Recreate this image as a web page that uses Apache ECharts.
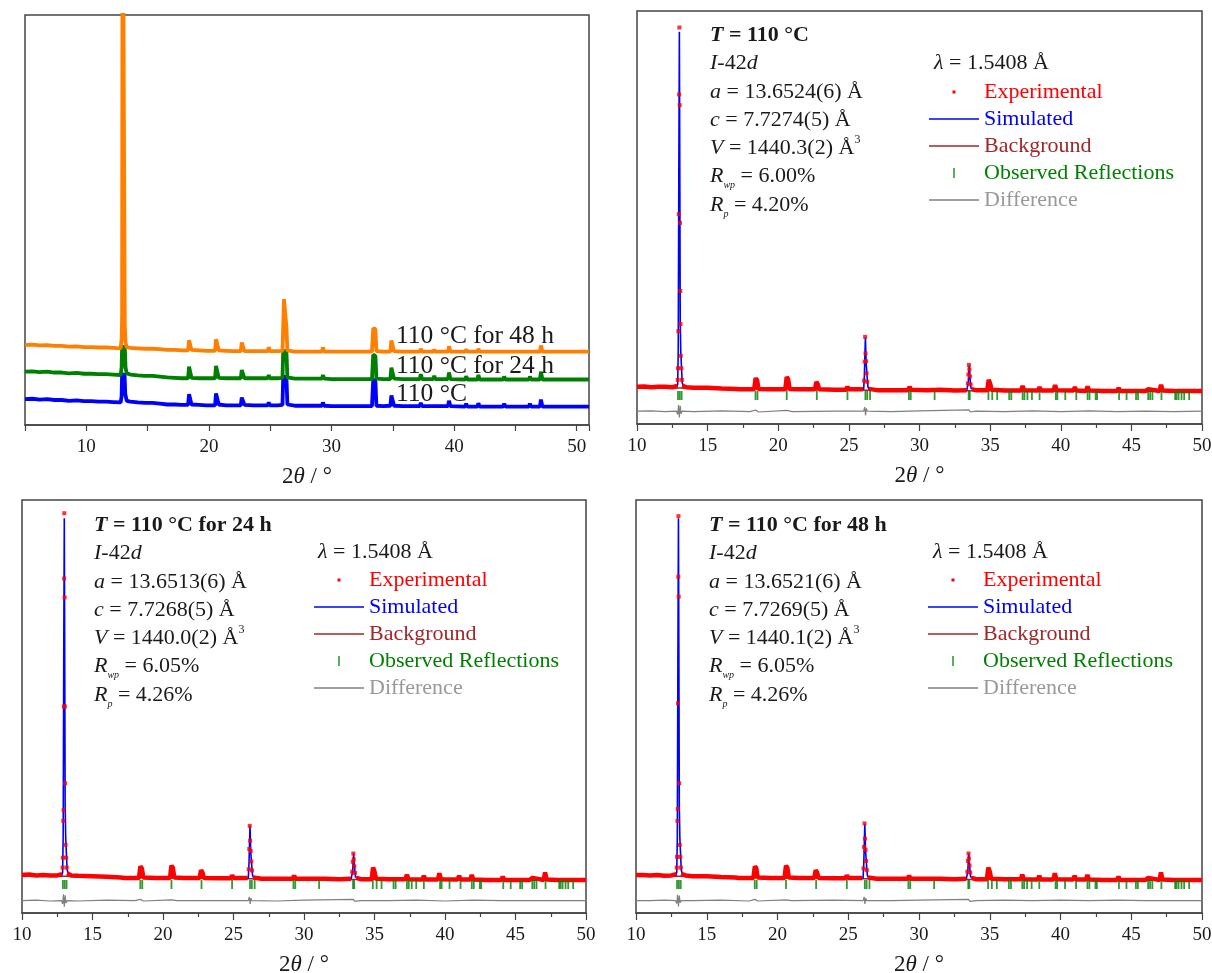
<!DOCTYPE html>
<html><head><meta charset="utf-8">
<script src="https://cdn.jsdelivr.net/npm/echarts@6/dist/echarts.min.js"></script>
<style>html,body{margin:0;padding:0;background:#fff}#c{width:1212px;height:973px}</style>
</head><body><div id="c"></div>
<script>
const FONT = '"Liberation Serif", "Times New Roman", serif';
const TXT = '#1a1a1a';

// ---------- Panel 1: stacked XRD patterns (2θ, arbitrary intensity) ----------
const xrd110 = [[5,6.3],[5.6,6.4],[6.2,6.2],[6.8,6.3],[7.4,6.1],[8,6.1],[8.6,5.9],[9.2,6.0],[9.8,5.8],[10.4,5.8],[11,5.7],[11.6,5.7],[12.2,5.6],[12.8,5.5],[12.88,7.0],[12.92,12.4],[13.12,12.2],[13.18,7.5],[13.3,5.9],[13.6,5.7],[14.2,5.5],[14.8,5.4],[15.4,5.4],[16,5.2],[16.6,5.0],[17.2,5.0],[17.8,4.9],[18.3,4.9],[18.38,7.5],[18.48,7.4],[18.58,5.0],[19.2,4.9],[19.8,4.8],[20.5,4.8],[20.58,7.7],[20.7,7.5],[20.8,5.0],[21.4,4.8],[22,4.8],[22.6,4.8],[22.68,6.7],[22.8,6.6],[22.9,4.9],[23.6,4.8],[24.2,4.8],[24.8,4.8],[24.88,5.5],[24.96,4.8],[25.6,4.8],[26.0,4.9],[26.06,11.8],[26.32,11.7],[26.4,5.0],[27,4.7],[27.6,4.7],[28.2,4.7],[28.8,4.7],[29.22,4.7],[29.3,5.5],[29.4,4.7],[30,4.6],[30.6,4.6],[31.2,4.6],[31.8,4.6],[32.4,4.6],[33.3,4.6],[33.4,11.0],[33.58,10.8],[33.66,4.7],[34.2,4.6],[34.8,4.7],[34.88,7.2],[35.0,6.9],[35.1,4.7],[35.8,4.6],[36.4,4.6],[37.2,4.6],[37.28,5.4],[37.38,4.6],[38.3,4.6],[38.38,5.0],[38.46,4.6],[39.5,4.6],[39.58,5.9],[39.7,4.6],[40.9,4.5],[40.98,5.2],[41.08,4.5],[41.9,4.5],[41.98,5.3],[42.08,4.5],[43,4.5],[44.0,4.5],[44.08,5.2],[44.18,4.5],[45,4.5],[46.1,4.5],[46.18,5.2],[46.28,4.5],[47.0,4.5],[47.08,6.2],[47.2,4.5],[48.2,4.5],[48.28,4.9],[48.36,4.5],[49.5,4.5],[51,4.5]];
const xrd24h = [[5,13.0],[5.6,13.1],[6.2,12.9],[6.8,13.0],[7.4,12.8],[8,12.8],[8.6,12.6],[9.2,12.7],[9.8,12.5],[10.4,12.5],[11,12.4],[11.6,12.4],[12.2,12.3],[12.8,12.2],[12.88,14.0],[12.92,19.1],[13.14,19.0],[13.2,14.0],[13.3,12.6],[13.6,12.3],[14.2,12.1],[14.8,12.0],[15.4,12.0],[16,11.8],[16.6,11.6],[17.2,11.5],[17.8,11.4],[18.3,11.4],[18.38,14.2],[18.48,14.0],[18.58,11.5],[19.2,11.4],[19.8,11.4],[20.5,11.4],[20.58,14.4],[20.7,14.2],[20.8,11.5],[21.4,11.4],[22,11.4],[22.6,11.4],[22.68,13.4],[22.8,13.2],[22.9,11.4],[23.6,11.4],[24.2,11.4],[24.8,11.4],[24.88,12.2],[24.96,11.4],[25.6,11.4],[26.0,11.5],[26.06,18.1],[26.32,18.0],[26.4,11.6],[27,11.3],[27.6,11.3],[28.2,11.3],[28.8,11.3],[29.22,11.3],[29.3,12.2],[29.4,11.3],[30,11.2],[30.6,11.2],[31.2,11.2],[31.8,11.2],[32.4,11.2],[33.3,11.2],[33.4,17.1],[33.58,16.9],[33.66,11.3],[34.2,11.2],[34.8,11.2],[34.88,14.0],[35.0,13.6],[35.1,11.3],[35.8,11.2],[36.4,11.2],[37.2,11.2],[37.28,12.4],[37.38,11.2],[38.3,11.2],[38.38,12.0],[38.46,11.2],[39.5,11.2],[39.58,12.8],[39.7,11.2],[40.9,11.1],[40.98,11.9],[41.08,11.1],[41.9,11.1],[41.98,12.2],[42.08,11.1],[43,11.1],[44.0,11.1],[44.08,11.8],[44.18,11.1],[45,11.1],[46.1,11.1],[46.18,11.8],[46.28,11.1],[47.0,11.1],[47.08,13.0],[47.2,11.1],[48.2,11.1],[48.28,11.5],[48.36,11.1],[49.5,11.1],[51,11.1]];
const xrd48h = [[5,19.5],[5.6,19.6],[6.2,19.4],[6.8,19.5],[7.4,19.3],[8,19.3],[8.6,19.1],[9.2,19.2],[9.8,19.0],[10.4,19.0],[11,18.9],[11.6,18.9],[12.2,18.8],[12.8,18.7],[12.88,21.0],[12.92,26.0],[12.96,150],[13.08,150],[13.14,24.0],[13.2,20.0],[13.3,19.0],[13.6,18.8],[14.2,18.7],[14.8,18.6],[15.4,18.6],[16,18.5],[16.6,18.3],[17.2,18.3],[17.8,18.2],[18.3,18.2],[18.38,20.7],[18.48,20.5],[18.58,18.3],[19.2,18.2],[19.8,18.1],[20.5,18.1],[20.58,20.9],[20.7,20.7],[20.8,18.2],[21.4,18.1],[22,18.0],[22.6,18.0],[22.68,20.1],[22.8,19.9],[22.9,18.0],[23.6,18.0],[24.2,18.0],[24.8,18.0],[24.88,18.95],[24.96,18.0],[25.6,18.0],[26.0,18.1],[26.06,24.0],[26.12,30.7],[26.26,30.5],[26.32,24.0],[26.4,18.2],[27,17.9],[27.6,17.9],[28.2,17.9],[28.8,17.9],[29.22,17.9],[29.3,18.95],[29.4,17.9],[30,17.9],[30.6,17.9],[31.2,17.9],[31.8,17.9],[32.4,17.9],[33.3,17.9],[33.4,23.6],[33.58,23.4],[33.66,18.0],[34.2,17.9],[34.8,17.9],[34.88,20.6],[35.0,20.3],[35.1,18.0],[35.8,17.9],[36.4,17.9],[37.2,17.9],[37.28,18.6],[37.38,17.9],[38.3,17.9],[38.38,18.4],[38.46,17.9],[39.5,17.9],[39.58,19.2],[39.7,17.9],[40.9,17.9],[40.98,18.4],[41.08,17.9],[41.9,17.9],[41.98,18.6],[42.08,17.9],[43,17.9],[44.0,17.9],[44.08,18.3],[44.18,17.9],[45,17.9],[46.1,17.9],[46.18,18.3],[46.28,17.9],[47.0,17.9],[47.08,19.4],[47.2,17.9],[48.2,17.9],[48.28,18.2],[48.36,17.9],[49.5,17.9],[51,17.9]];
const stackLabels = ['110 °C for 48 h', '110 °C for 24 h', '110 °C'];

// ---------- Reflection positions (2θ) ----------
const reflPos = [12.9,13.03,13.16,18.39,18.53,20.6,22.73,24.9,26.17,26.3,26.5,29.25,29.38,31.07,33.48,33.56,34.88,35.15,35.5,36.35,36.5,37.3,37.43,37.64,37.96,38.5,39.65,39.76,40.32,41.1,41.9,42.04,42.47,42.57,44.13,44.66,45.33,45.47,46.19,46.33,46.49,47.13,48.1,48.2,48.34,48.55,48.74,49.09];
const REFL_LEVEL = 6.9;

// ---------- Panel 2: 110 °C ----------
const sim110 = [[10,9.0],[11,8.95],[12,8.9],[12.8,8.9],[12.88,9.6],[12.92,18],[12.96,60],[13.0,95],[13.03,62],[13.06,25],[13.1,17.5],[13.16,17.5],[13.2,10],[13.3,9.0],[14,8.8],[16,8.6],[18.3,8.5],[18.4,11.0],[18.5,10.5],[18.6,8.5],[20.5,8.4],[20.6,11.3],[20.7,10.6],[20.8,8.4],[22.6,8.4],[22.7,10.1],[22.8,9.5],[22.9,8.3],[24.8,8.3],[24.9,8.9],[25.0,8.3],[26.05,8.4],[26.1,12],[26.17,21],[26.22,15],[26.28,12],[26.35,9],[26.45,8.3],[29.2,8.2],[29.3,8.9],[29.4,8.2],[33.35,8.2],[33.45,10],[33.52,14.2],[33.58,11],[33.65,8.6],[33.75,8.2],[34.8,8.2],[34.9,10.6],[35.0,9.5],[35.1,8.2],[37.2,8.1],[37.3,9.0],[37.4,8.1],[38.4,8.1],[38.5,8.7],[38.6,8.1],[39.5,8.1],[39.6,9.3],[39.7,8.1],[40.9,8.1],[41.0,8.7],[41.1,8.0],[41.8,8.0],[41.9,8.9],[42.0,8.0],[44.0,8.0],[44.1,8.6],[44.2,8.0],[47.0,8.0],[47.1,9.3],[47.2,8.0],[50,8.0]];
const exp110Line = [[10,9.0],[10.5,9.1],[11,8.9],[11.5,9.0],[12,9.0],[12.5,8.9],[12.85,9.2],[13.0,'-'],[13.2,9.3],[13.5,8.9],[14,8.8],[15,8.8],[16,8.6],[17,8.5],[17.3,8.4],[18.3,8.4],[18.4,11.1],[18.5,10.6],[18.6,8.5],[19.5,8.4],[20.5,8.4],[20.6,11.4],[20.7,10.8],[20.8,8.5],[21.5,8.4],[22.6,8.4],[22.7,10.2],[22.8,9.6],[22.9,8.4],[24,8.3],[24.8,8.3],[24.9,9.0],[25.0,8.4],[26.0,8.4],[26.2,'-'],[26.4,8.5],[27,8.2],[28,8.2],[29.2,8.2],[29.3,9.0],[29.4,8.3],[30.5,8.2],[31.5,8.3],[32.5,8.1],[33.35,8.2],[33.5,'-'],[33.7,8.4],[34.0,8.2],[34.8,8.2],[34.9,10.7],[35.0,9.8],[35.1,8.3],[36,8.1],[37.2,8.1],[37.3,9.2],[37.4,8.2],[38.4,8.1],[38.5,8.9],[38.6,8.1],[39.5,8.1],[39.6,9.4],[39.7,8.2],[40.9,8.1],[41.0,8.9],[41.1,8.1],[41.8,8.0],[41.9,9.1],[42.0,8.1],[43,8.0],[44.0,8.0],[44.1,8.7],[44.2,8.0],[45,8.0],[46,8.0],[46.2,8.4],[47.0,8.0],[47.1,9.5],[47.2,8.1],[48,8.0],[49,8.0],[50,8.0]];
const exp110Dots = [[12.88,10.7],[12.9,13.5],[12.93,22.5],[12.96,50.8],[12.98,79.8],[13.0,96.0],[13.02,77.2],[13.04,48.7],[13.06,32.2],[13.08,24.2],[13.1,16.5],[13.14,13.5],[13.18,10.7],[26.08,10.5],[26.12,15.1],[26.15,21.1],[26.18,17.1],[26.22,15.2],[26.25,12.3],[26.3,10.2],[33.42,9.8],[33.46,12.0],[33.5,14.3],[33.53,13.2],[33.57,11.5],[33.62,9.6]];
const bkg110 = [[10,8.9],[15,8.6],[20,8.3],[30,8.1],[40,8.0],[50,7.9]];
const diff110 = [[10,3.1],[11,3.2],[12,3.0],[12.8,3.1],[12.88,2.3],[12.94,4.6],[13.0,1.6],[13.06,4.4],[13.12,2.5],[13.2,3.1],[14,3.0],[16,3.2],[18,3.0],[18.4,3.4],[18.6,2.9],[20.6,3.3],[21,3.0],[24,3.1],[26.05,3.1],[26.12,4.1],[26.18,2.1],[26.24,3.8],[26.3,3.1],[28,3.0],[30,3.2],[33.5,3.4],[33.6,2.9],[34,3.1],[36,3.0],[38,3.2],[40,3.0],[42,3.2],[44,3.0],[46,3.1],[48,3.0],[50,3.1]];

// ---------- Panel 3: 110 °C for 24 h ----------
const sim24 = [[10,9.2],[11,9.1],[12,9.1],[12.8,9.0],[12.88,9.8],[12.92,18.5],[12.96,62],[13.0,95.6],[13.03,63],[13.06,26],[13.1,18],[13.16,18],[13.2,10.5],[13.3,9.2],[14,9.0],[16,8.8],[18.3,8.6],[18.4,11.2],[18.5,10.7],[18.6,8.6],[20.5,8.5],[20.6,11.4],[20.7,10.8],[20.8,8.5],[22.6,8.5],[22.7,10.3],[22.8,9.6],[22.9,8.4],[24.8,8.4],[24.9,9.0],[25.0,8.4],[26.05,8.5],[26.1,12],[26.17,21.1],[26.22,15],[26.28,12],[26.35,9.1],[26.45,8.4],[29.2,8.3],[29.3,9.0],[29.4,8.3],[33.35,8.3],[33.45,10.2],[33.52,14.4],[33.58,11.2],[33.65,8.7],[33.75,8.3],[34.8,8.2],[34.9,10.9],[35.0,9.7],[35.1,8.2],[37.2,8.2],[37.3,9.1],[37.4,8.2],[38.4,8.1],[38.5,8.8],[38.6,8.1],[39.5,8.1],[39.6,9.4],[39.7,8.1],[40.9,8.1],[41.0,8.8],[41.1,8.1],[41.8,8.0],[41.9,9.0],[42.0,8.0],[44.0,8.0],[44.1,8.7],[44.2,8.0],[47.0,8.0],[47.1,9.6],[47.2,8.0],[50,8.0]];
const exp24Line = [[10,9.2],[10.5,9.3],[11,9.1],[11.5,9.2],[12,9.1],[12.5,9.1],[12.85,9.4],[13.0,'-'],[13.2,9.6],[13.5,9.1],[14,9.0],[15,8.9],[16,8.8],[17,8.6],[17.3,8.5],[18.3,8.5],[18.4,11.3],[18.5,10.8],[18.6,8.6],[19.5,8.5],[20.5,8.5],[20.6,11.5],[20.7,10.9],[20.8,8.6],[21.5,8.5],[22.6,8.5],[22.7,10.4],[22.8,9.8],[22.9,8.5],[24,8.4],[24.8,8.4],[24.9,9.1],[25.0,8.5],[26.0,8.5],[26.2,'-'],[26.4,8.6],[27,8.3],[28,8.3],[29.2,8.3],[29.3,9.0],[29.4,8.3],[30.5,8.3],[31.5,8.3],[32.5,8.2],[33.35,8.3],[33.5,'-'],[33.7,8.5],[34.0,8.2],[34.8,8.2],[34.9,11.0],[35.0,10.0],[35.1,8.3],[36,8.2],[37.2,8.2],[37.3,9.3],[37.4,8.2],[38.4,8.1],[38.5,9.0],[38.6,8.1],[39.5,8.1],[39.6,9.6],[39.7,8.2],[40.9,8.1],[41.0,9.0],[41.1,8.1],[41.8,8.1],[41.9,9.2],[42.0,8.1],[43,8.0],[44.0,8.0],[44.1,8.8],[44.2,8.0],[45,8.0],[46,8.0],[46.2,8.5],[47.0,8.0],[47.1,9.8],[47.2,8.1],[48,8.0],[49,8.0],[50,8.0]];
const exp24Dots = [[12.88,11.0],[12.9,13.4],[12.93,22.3],[12.95,24.9],[12.97,50.0],[12.99,81.0],[13.0,96.8],[13.02,76.4],[13.04,50.0],[13.06,31.4],[13.09,16.5],[13.13,13.4],[13.17,11.0],[26.08,10.6],[26.12,15.5],[26.15,21.1],[26.18,17.5],[26.22,15.0],[26.26,12.5],[26.31,10.3],[33.42,10.0],[33.46,12.4],[33.5,14.4],[33.53,13.0],[33.57,11.3],[33.62,9.7]];
const bkg24 = [[10,9.1],[15,8.8],[20,8.5],[30,8.2],[40,8.1],[50,7.9]];
const diff24 = [[10,3.0],[11,3.1],[12,2.9],[12.8,3.0],[12.88,2.2],[12.94,4.5],[13.0,1.5],[13.06,4.3],[13.12,2.4],[13.2,3.0],[14,2.9],[16,3.1],[18,3.0],[18.4,3.3],[18.6,2.9],[20.6,3.2],[21,3.0],[24,3.0],[26.05,3.0],[26.12,3.9],[26.18,2.2],[26.24,3.6],[26.3,3.0],[28,2.9],[30,3.1],[33.5,3.3],[33.6,2.8],[34,3.0],[36,3.0],[38,3.1],[40,2.9],[42,3.1],[44,3.0],[46,3.0],[48,3.0],[50,3.0]];

// ---------- Panel 4: 110 °C for 48 h ----------
const sim48 = [[10,9.2],[11,9.1],[12,9.0],[12.8,9.0],[12.88,9.8],[12.92,18.2],[12.96,61],[13.0,95.6],[13.03,62],[13.06,26],[13.1,18],[13.16,17.8],[13.2,10.4],[13.3,9.1],[14,8.9],[16,8.7],[18.3,8.6],[18.4,11.2],[18.5,10.7],[18.6,8.6],[20.5,8.5],[20.6,11.4],[20.7,10.8],[20.8,8.5],[22.6,8.5],[22.7,10.3],[22.8,9.6],[22.9,8.4],[24.8,8.4],[24.9,9.0],[25.0,8.4],[26.05,8.5],[26.1,12.2],[26.17,21.6],[26.22,15.3],[26.28,12.2],[26.35,9.1],[26.45,8.4],[29.2,8.3],[29.3,9.0],[29.4,8.3],[33.35,8.3],[33.45,10.2],[33.52,14.4],[33.58,11.2],[33.65,8.7],[33.75,8.3],[34.8,8.2],[34.9,10.9],[35.0,9.7],[35.1,8.2],[37.2,8.2],[37.3,9.1],[37.4,8.2],[38.4,8.1],[38.5,8.8],[38.6,8.1],[39.5,8.1],[39.6,9.4],[39.7,8.1],[40.9,8.1],[41.0,8.8],[41.1,8.1],[41.8,8.0],[41.9,9.0],[42.0,8.0],[44.0,8.0],[44.1,8.7],[44.2,8.0],[47.0,8.0],[47.1,9.6],[47.2,8.0],[50,8.0]];
const exp48Line = [[10,9.2],[10.5,9.2],[11,9.1],[11.5,9.2],[12,9.0],[12.5,9.1],[12.85,9.4],[13.0,'-'],[13.2,9.5],[13.5,9.1],[14,8.9],[15,8.9],[16,8.7],[17,8.6],[17.3,8.5],[18.3,8.5],[18.4,11.3],[18.5,10.8],[18.6,8.6],[19.5,8.5],[20.5,8.5],[20.6,11.5],[20.7,10.9],[20.8,8.6],[21.5,8.5],[22.6,8.5],[22.7,10.4],[22.8,9.8],[22.9,8.5],[24,8.4],[24.8,8.4],[24.9,9.1],[25.0,8.5],[26.0,8.5],[26.2,'-'],[26.4,8.6],[27,8.3],[28,8.3],[29.2,8.3],[29.3,9.0],[29.4,8.3],[30.5,8.3],[31.5,8.3],[32.5,8.2],[33.35,8.3],[33.5,'-'],[33.7,8.5],[34.0,8.2],[34.8,8.2],[34.9,11.0],[35.0,10.0],[35.1,8.3],[36,8.2],[37.2,8.2],[37.3,9.3],[37.4,8.2],[38.4,8.1],[38.5,9.0],[38.6,8.1],[39.5,8.1],[39.6,9.6],[39.7,8.2],[40.9,8.1],[41.0,9.0],[41.1,8.1],[41.8,8.1],[41.9,9.2],[42.0,8.1],[43,8.0],[44.0,8.0],[44.1,8.8],[44.2,8.0],[45,8.0],[46,8.0],[46.2,8.5],[47.0,8.0],[47.1,9.8],[47.2,8.1],[48,8.0],[49,8.0],[50,8.0]];
const exp48Dots = [[12.88,11.0],[12.9,13.6],[12.93,22.3],[12.95,25.2],[12.97,50.8],[12.99,81.4],[13.0,96.1],[13.02,76.6],[13.05,31.4],[13.09,16.5],[13.13,13.6],[13.17,11.0],[26.08,10.8],[26.12,16.0],[26.15,21.7],[26.18,18.0],[26.22,15.3],[26.26,12.6],[26.31,10.4],[33.42,10.0],[33.46,12.6],[33.5,14.4],[33.53,13.2],[33.57,11.5],[33.62,9.8]];
const bkg48 = [[10,9.1],[15,8.8],[20,8.5],[30,8.2],[40,8.1],[50,7.9]];
const diff48 = [[10,3.0],[11,3.0],[12,3.1],[12.8,3.0],[12.88,2.3],[12.94,4.4],[13.0,1.6],[13.06,4.2],[13.12,2.5],[13.2,3.0],[14,3.0],[16,3.1],[18,2.9],[18.4,3.3],[18.6,2.9],[20.6,3.2],[21,3.0],[24,3.1],[26.05,3.0],[26.12,3.9],[26.18,2.2],[26.24,3.6],[26.3,3.0],[28,3.0],[30,3.1],[33.5,3.3],[33.6,2.8],[34,3.0],[36,3.1],[38,3.0],[40,3.1],[42,3.0],[44,3.1],[46,3.0],[48,3.0],[50,3.0]];

// ---------- Annotation texts ----------
const params = [
  {T:'110 °C', a:'13.6524(6)', c:'7.7274(5)', V:'1440.3(2)', Rwp:'6.00%', Rp:'4.20%'},
  {T:'110 °C for 24 h', a:'13.6513(6)', c:'7.7268(5)', V:'1440.0(2)', Rwp:'6.05%', Rp:'4.26%'},
  {T:'110 °C for 48 h', a:'13.6521(6)', c:'7.7269(5)', V:'1440.1(2)', Rwp:'6.05%', Rp:'4.26%'}
];
const spaceGroup = 'I-42d';
const wavelength = '1.5408';
const legendNames = ['Experimental','Simulated','Background','Observed Reflections','Difference'];

// ---------- Styling / layout ----------
const C = {exp:'#ff0000', sim:'#0000ff', bkg:'#a0282a', refl:'#008000', diff:'#808080',
           o:'#ff8000', g:'#008000', b:'#0000ff', axis:'#444'};
const gridsPx = [
  {left:25, top:15, width:564, height:410},
  {left:637, top:11, width:565, height:413},
  {left:22, top:500, width:564, height:413},
  {left:636, top:500, width:566, height:413}
];
const FS = 22;

const nameRich = {
  n:{fontFamily:FONT, fontSize:23, color:TXT},
  i:{fontFamily:FONT, fontSize:23, fontStyle:'italic', color:TXT}
};
function xAxis(gi, min, max, onlyTens){
  return {
    type:'value', gridIndex:gi, min:min, max:max, interval:5,
    name:'{n|2}{i|θ}{n| / °}', nameLocation:'middle', nameGap:40,
    nameTextStyle:{fontFamily:FONT, fontSize:23, color:TXT, rich:nameRich},
    axisLine:{show:true, onZero:false, lineStyle:{color:C.axis, width:1.5}},
    axisTick:{show:true, inside:false, length:onlyTens?6:7, lineStyle:{color:C.axis, width:1.2}},
    minorTick:{show:!onlyTens, splitNumber:2, length:4, lineStyle:{color:C.axis, width:1.2}},
    axisLabel:{show:true, margin:13, fontFamily:FONT, fontSize:19, color:TXT,
      formatter: v => onlyTens ? (v % 10 === 0 ? String(v) : '') : String(v)},
    splitLine:{show:false}, minorSplitLine:{show:false}
  };
}
function yAxis(gi){
  return {type:'value', gridIndex:gi, min:0, max:100, show:false, splitLine:{show:false}};
}

const series = [];
// panel 1
[[xrd110, C.b],[xrd24h, C.g],[xrd48h, C.o]].forEach(([d, col], k) => {
  series.push({type:'line', name:stackLabels[2-k], xAxisIndex:0, yAxisIndex:0, data:d,
    showSymbol:false, symbol:'none', lineStyle:{color:col, width:3.8}, itemStyle:{color:col},
    clip:true, z:2+k, silent:true, animation:false});
});
// rietveld panels
const riet = [
  [sim110, bkg110, exp110Line, exp110Dots, diff110],
  [sim24, bkg24, exp24Line, exp24Dots, diff24],
  [sim48, bkg48, exp48Line, exp48Dots, diff48]
];
riet.forEach(([sim, bkg, eLine, eDots, diff], k) => {
  const gi = k + 1;
  const ax = {xAxisIndex:gi, yAxisIndex:gi, silent:true, animation:false};
  series.push(Object.assign({type:'line', name:'Background', data:bkg, symbol:'none',
    lineStyle:{color:C.bkg, width:1.5}, itemStyle:{color:C.bkg}, z:1}, ax));
  series.push(Object.assign({type:'line', name:'Simulated', data:sim, symbol:'none',
    lineStyle:{color:C.sim, width:1.6}, itemStyle:{color:C.sim}, z:2}, ax));
  series.push(Object.assign({type:'line', name:'Experimental', data:eLine, symbol:'none', connectNulls:false,
    lineStyle:{color:C.exp, width:4.5}, itemStyle:{color:C.exp}, z:3}, ax));
  series.push(Object.assign({type:'scatter', name:'Experimental', data:eDots, symbol:'rect', symbolSize:4,
    itemStyle:{color:C.exp}, z:4}, ax));
  series.push(Object.assign({type:'scatter', name:'Observed Reflections', data:reflPos.map(x => [x, REFL_LEVEL]),
    symbol:'rect', symbolSize:[1.8, 9], itemStyle:{color:C.refl}, z:3}, ax));
  series.push(Object.assign({type:'line', name:'Difference', data:diff, symbol:'none',
    lineStyle:{color:C.diff, width:1.2}, itemStyle:{color:C.diff}, z:2}, ax));
});

const ICON_LINE = 'path://M0,0M50,14M0,6.3h50v1.4h-50z';
const legendIcons = {
  'Experimental':'path://M0,0M50,14M23.5,5.5h3v3h-3z',
  'Simulated':ICON_LINE, 'Background':ICON_LINE,
  'Observed Reflections':'path://M0,0M50,14M24.2,2h1.6v10h-1.6z',
  'Difference':ICON_LINE
};
const legendColors = {'Experimental':C.exp,'Simulated':C.sim,'Background':C.bkg,'Observed Reflections':C.refl,'Difference':'#999999'};
function legendAt(left, top){
  return {show:true, orient:'vertical', left:left, top:top, padding:0, itemWidth:50, itemHeight:14, itemGap:3,
    selectedMode:false, itemStyle:{borderWidth:0},
    textStyle:{fontFamily:FONT, fontSize:FS, lineHeight:24, color:TXT},
    data: legendNames.map(n => ({name:n, icon:legendIcons[n], textStyle:{color:legendColors[n]}}))};
}

const RICH = {
  n:{fontFamily:FONT, fontSize:FS, fill:TXT, lineHeight:28.3},
  i:{fontFamily:FONT, fontSize:FS, fontStyle:'italic', fill:TXT, lineHeight:28.3},
  b:{fontFamily:FONT, fontSize:FS, fontWeight:'bold', fill:TXT, lineHeight:28.3},
  ib:{fontFamily:FONT, fontSize:FS, fontWeight:'bold', fontStyle:'italic', fill:TXT, lineHeight:28.3},
  sub:{fontFamily:FONT, fontSize:10, fontStyle:'italic', fill:TXT, lineHeight:10, verticalAlign:'bottom'},
  sup:{fontFamily:FONT, fontSize:12, fill:TXT, lineHeight:14, verticalAlign:'top'}
};
function block(p){
  const sg = spaceGroup.split('-');
  return [
    '{ib|T}{b| = ' + p.T + '}',
    '{i|' + sg[0] + '}{n|-' + sg[1].slice(0, -1) + '}{i|' + sg[1].slice(-1) + '}',
    '{i|a}{n| = ' + p.a + ' Å}',
    '{i|c}{n| = ' + p.c + ' Å}',
    '{i|V}{n| = ' + p.V + ' Å}{sup|3}',
    '{i|R}{sub|wp}{n| = ' + p.Rwp + '}',
    '{i|R}{sub|p}{n| = ' + p.Rp + '}'
  ].join('\n');
}
const textPos = [{x:710, y:21, lx:934, ly:63, gx:929, gy:80},
                 {x:94, y:511, lx:318, ly:552, gx:314, gy:568},
                 {x:709, y:511, lx:933, ly:552, gx:928, gy:568}];
const graphic = [];
// panel 1 labels
[[396, 336],[396, 366],[396, 394]].forEach((p, k) => {
  graphic.push({type:'text', x:p[0], y:p[1], silent:true, z:10,
    style:{text:stackLabels[k], fontFamily:FONT, fontSize:25.5, fill:TXT, align:'left', verticalAlign:'middle'}});
});
params.forEach((p, k) => {
  const t = textPos[k];
  graphic.push({type:'text', x:t.x, y:t.y, silent:true, z:10,
    style:{text:block(p), rich:RICH, fontFamily:FONT, fontSize:FS, fill:TXT, lineHeight:28.3, align:'left', verticalAlign:'top'}});
  graphic.push({type:'text', x:t.lx, y:t.ly, silent:true, z:10,
    style:{text:'{i|λ}{n| = ' + wavelength + ' Å}', rich:RICH, fontFamily:FONT, fontSize:FS, fill:TXT, align:'left', verticalAlign:'middle'}});
});

const option = {
  backgroundColor:'#ffffff',
  animation:false,
  grid: gridsPx.map(g => Object.assign({show:true, borderColor:C.axis, borderWidth:1.5, backgroundColor:'transparent',
    containLabel:false, outerBoundsMode:'none'}, g)),
  xAxis:[xAxis(0, 5, 51, true), xAxis(1, 10, 50, false), xAxis(2, 10, 50, false), xAxis(3, 10, 50, false)],
  yAxis:[yAxis(0), yAxis(1), yAxis(2), yAxis(3)],
  legend: textPos.map(t => legendAt(t.gx, t.gy)),
  series: series,
  graphic: graphic
};
const chart = echarts.init(document.getElementById('c'), null, {renderer:'canvas'});
chart.setOption(option);
</script></body></html>
